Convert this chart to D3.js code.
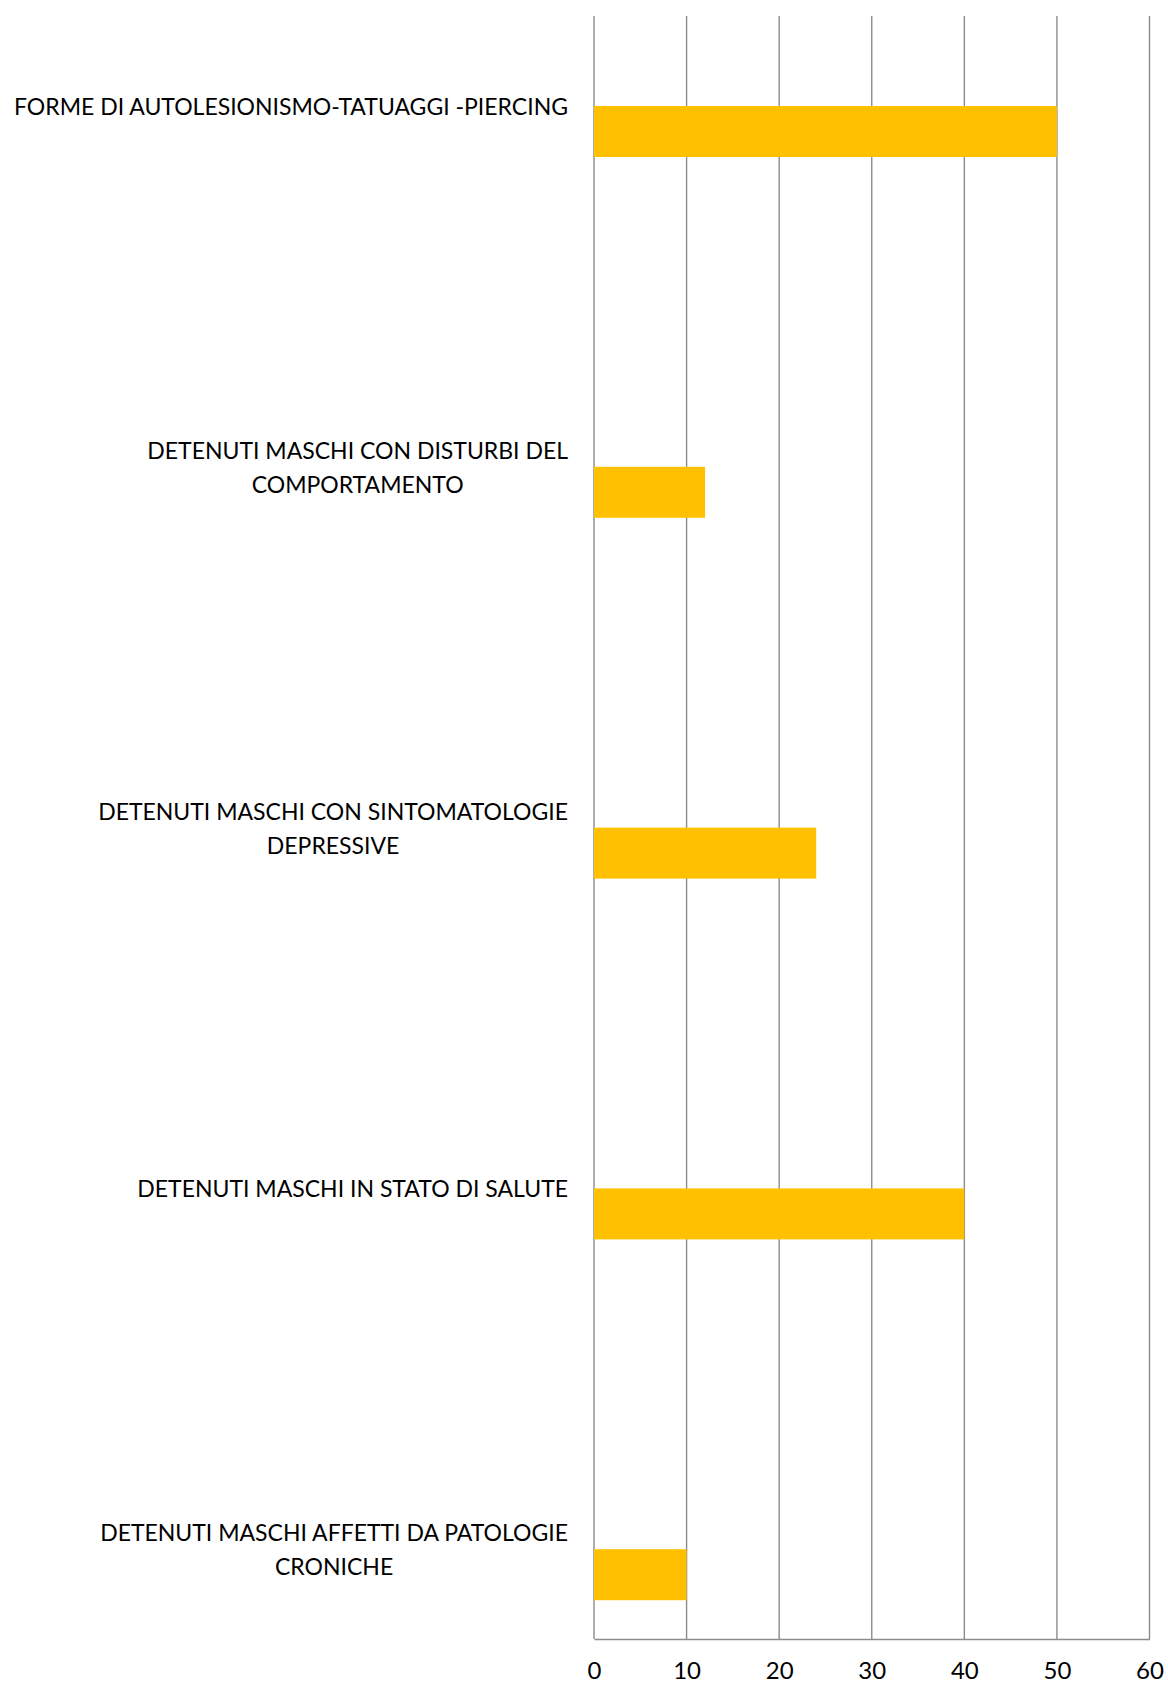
<!DOCTYPE html>
<html>
<head>
<meta charset="utf-8">
<script src="https://cdn.jsdelivr.net/npm/d3@7"></script>
<style>
  html, body { margin: 0; padding: 0; background: #fff; }
  svg { display: block; }
</style>
</head>
<body>
<svg id="chart" width="1168" height="1686"></svg>
<script>
// Categories from top to bottom; "\n" marks where a label wraps.
const categories = [
  "FORME DI AUTOLESIONISMO-TATUAGGI -PIERCING",
  "DETENUTI MASCHI CON DISTURBI DEL\nCOMPORTAMENTO",
  "DETENUTI MASCHI CON SINTOMATOLOGIE\nDEPRESSIVE",
  "DETENUTI MASCHI IN STATO DI SALUTE",
  "DETENUTI MASCHI AFFETTI DA PATOLOGIE\nCRONICHE"
];
const values = [50, 12, 24, 40, 10];
const xTicks = [0, 10, 20, 30, 40, 50, 60];

const svg = d3.select("#chart");

// Plot area
const plot = { left: 594, right: 1149.5, top: 16, bottom: 1639 };
const step = 360.8;          // distance between category rows
const barH = 51;             // bar thickness
const firstBarTop = 106;

const x = d3.scaleLinear()
  .domain([0, 60])
  .range([plot.left, plot.right]);

const pad = 1 - barH / step;
const y = d3.scaleBand()
  .domain(categories)
  .paddingInner(pad)
  .paddingOuter(pad / 2)
  .range([firstBarTop - step * pad / 2, firstBarTop - step * pad / 2 + step * categories.length]);

const gridColor = "#8c8c8c";
const font = "Lato, 'Open Sans', sans-serif";

// Vertical gridlines
svg.append("g")
  .selectAll("line")
  .data(xTicks)
  .join("line")
  .attr("x1", d => x(d)).attr("x2", d => x(d))
  .attr("y1", plot.top).attr("y2", plot.bottom)
  .attr("stroke", gridColor)
  .attr("stroke-width", 1.4);

// Bars
svg.append("g")
  .selectAll("rect")
  .data(categories.map((c, i) => ({ c, v: values[i] })))
  .join("rect")
  .attr("x", x(0))
  .attr("y", d => y(d.c))
  .attr("width", d => x(d.v) - x(0))
  .attr("height", y.bandwidth())
  .attr("fill", "#FFC000");

// Bottom axis with tick labels
const xAxis = d3.axisBottom(x).tickValues(xTicks).tickSize(0).tickPadding(23);
const gx = svg.append("g")
  .attr("transform", `translate(0,${plot.bottom})`)
  .call(xAxis);
gx.select(".domain").attr("stroke", gridColor).attr("stroke-width", 1.6);
gx.selectAll("text")
  .attr("font-family", font)
  .attr("font-size", 24)
  .attr("fill", "#000");

// Category labels: lines centered in a block right-aligned next to the axis
const labelRight = 568;
const lineGap = 34;
const labelShift = -25.5;
const lg = svg.append("g")
  .attr("font-family", font)
  .attr("font-size", 23)
  .attr("fill", "#000");

categories.forEach(c => {
  const lines = c.split("\n");
  const cy = y(c) + y.bandwidth() / 2 + labelShift;
  const t = lg.append("text")
    .attr("text-anchor", "middle")
    .attr("dominant-baseline", "central");
  lines.forEach((ln, i) => {
    t.append("tspan")
      .attr("y", cy + (i - (lines.length - 1) / 2) * lineGap)
      .text(ln);
  });
  // block width = widest line; center lines within it
  let maxW = 0;
  t.selectAll("tspan").each(function () {
    maxW = Math.max(maxW, this.getComputedTextLength());
  });
  t.selectAll("tspan").attr("x", labelRight - maxW / 2);
});
</script>
</body>
</html>
